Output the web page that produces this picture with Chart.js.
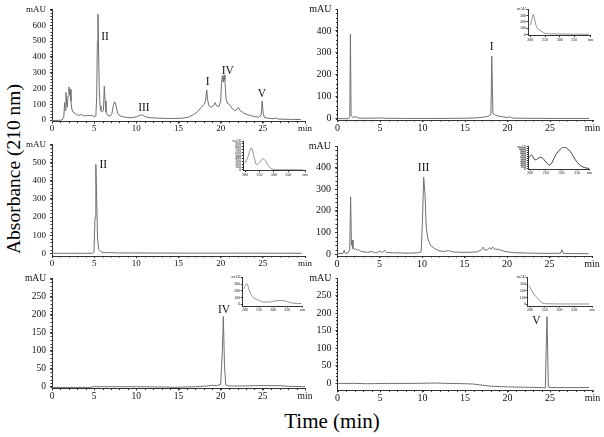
<!DOCTYPE html>
<html><head><meta charset="utf-8">
<script src="https://cdn.jsdelivr.net/npm/chart.js@4/dist/chart.umd.min.js"></script>
<style>
html,body{margin:0;padding:0;background:#fff;}
#wrap{position:relative;width:604px;height:437px;overflow:hidden;background:#fff;}
canvas{position:absolute;}
.ttl{position:absolute;font-family:"Liberation Serif","Times New Roman",serif;color:#000;white-space:nowrap;line-height:1;}
</style></head><body><div id="wrap">
<div class="ttl" style="left:332px;top:421px;font-size:21px;transform:translate(-50%,-50%);">Time (min)</div>
<div class="ttl" style="left:14px;top:169px;font-size:19.5px;transform:translate(-50%,-50%) rotate(-90deg);">Absorbance (210 nm)</div>
</div>
<script>
// ---------- DATA ----------
const timeTicks = [0, 5, 10, 15, 20, 25, 30];
const nmTicks = [200, 250, 300, 350];

// Panel 1: extract chromatogram
const p1Time = [0,0.8,1.2,1.4,1.5,1.55,1.65,1.72,1.8,1.9,2.0,2.1,2.18,2.25,2.35,2.5,2.8,3.0,3.3,3.5,3.8,4.2,4.5,4.8,5.0,5.2,5.3,5.38,5.45,5.52,5.6,5.7,5.8,5.95,6.1,6.2,6.3,6.4,6.6,6.9,7.1,7.3,7.45,7.6,7.8,8.1,8.5,9.0,9.5,10.0,10.4,10.7,11.0,11.5,12.5,13.5,14.5,15.5,16.2,16.8,17.3,17.7,18.0,18.2,18.35,18.45,18.6,18.9,19.2,19.35,19.5,19.8,20.0,20.1,20.2,20.3,20.4,20.5,20.65,20.8,21.0,21.2,21.5,21.8,22.1,22.3,22.7,23.1,23.5,24.0,24.5,24.8,24.92,25.05,25.2,25.6,26.2,26.6,26.8,27.5,28.5,29.5];
const p1Abs  = [-3,-2,0,20,110,60,175,120,80,150,210,160,195,120,70,50,40,32,30,35,25,30,28,30,20,25,150,500,670,450,200,90,60,50,60,215,120,50,30,25,40,100,115,90,40,25,20,15,15,20,30,32,22,15,12,10,10,12,18,35,55,80,98,120,190,130,90,80,95,110,90,85,120,230,280,240,285,250,130,105,100,85,65,60,80,60,45,35,30,22,18,30,120,40,15,12,8,12,6,5,4,3];
const p1Yticks = [0,100,200,300,400,500,600,700];
const p1Peaks = ['II','III','I','IV','V'];
const p1PeakTime = [6.28,10.9,18.45,20.85,24.9];
const p1PeakAbs = [524,76,242,310,164];

// Panel 2: standard I
const p2Time = [0,1.3,1.45,1.52,1.6,1.8,2.0,2.15,2.3,3,5,5.2,5.4,8,12,15,16.5,17.3,17.8,18.05,18.15,18.28,18.6,19.0,19.5,20.0,20.3,20.5,21.5,25,29.6];
const p2Abs  = [0,0,10,385,15,5,8,12,4,2,3,4,2,1,1,2,4,8,12,20,285,25,15,12,8,5,9,3,2,1,1];
const p2Yticks = [0,100,200,300,400,500];
const p2Peaks = ['I'];
const p2PeakTime = [18.15];
const p2PeakAbs = [327];

// Panel 3: standard II
const p3Time = [0,3,4.8,4.98,5.1,5.2,5.3,5.4,5.55,5.8,6.2,8,15,22,29.6];
const p3Abs  = [0,0,0,5,200,490,300,80,20,8,4,2,1,1,0];
const p3Yticks = [0,100,200,300,400,500,600];
const p3Peaks = ['II'];
const p3PeakTime = [6.08];
const p3PeakAbs = [489];

// Panel 4: standard III
const p4Time = [0,0.7,0.85,0.95,1.3,1.5,1.6,1.7,1.8,1.88,2.0,2.2,2.4,2.6,2.8,3.2,3.6,4.1,4.4,4.8,5.1,5.3,5.6,5.8,6.5,7.5,8.5,9.5,9.9,10.05,10.2,10.35,10.5,10.7,11.0,11.5,12.0,12.6,13.1,13.6,14.5,15.5,16.5,17.0,17.2,17.4,17.7,18.0,18.15,18.3,18.6,19.0,19.5,20.0,21,23,25,26.3,26.45,26.6,27.5,29.6];
const p4Abs  = [2,3,18,4,5,20,265,40,65,25,20,25,18,20,12,10,8,12,6,8,15,6,18,8,6,5,4,6,10,150,355,280,120,70,40,25,15,12,16,10,8,8,10,20,32,18,20,30,22,32,22,22,15,10,6,4,3,4,20,4,2,2];
const p4Yticks = [0,100,200,300,400,500];
const p4Peaks = ['III'];
const p4PeakTime = [10.19];
const p4PeakAbs = [400];

// Panel 5: standard IV
const p5Time = [0,4.5,5.0,10,13.5,14.5,15.5,17,18.5,19,19.5,20.0,20.2,20.32,20.45,20.6,21,23,24,27,28,30];
const p5Abs  = [-2,-2,0,0,-1,-2,-1,0,2,4,3,6,100,195,60,5,2,2,3,3,1,0];
const p5Yticks = [0,50,100,150,200,250,300];
const p5Peaks = ['IV'];
const p5PeakTime = [20.4];
const p5PeakAbs = [212];

// Panel 6: standard V
const p6Time = [0,2,3.5,6,9,11.5,13,15,16,17,18,20,22,24,24.45,24.55,24.65,24.8,25,27,29.6];
const p6Abs  = [0,0,-1,0,0,1,0,-1,-2,-5,-8,-10,-11,-12,-13,100,190,-10,-12,-12,-12];
const p6Yticks = [0,50,100,150,200,250,300];
const p6Peaks = ['V'];
const p6PeakTime = [23.4];
const p6PeakAbs = [179];

// UV spectra (insets)
const s1Nm  = [200,205,210,215,222,230,240,250,260,280,320,360,400];
const s1Abs = [150,230,320,230,110,80,45,20,15,12,10,8,8];
const s1Yticks = [0,100,200,300,400];
const s2Nm  = [200,210,222,232,240,250,262,272,282,292,305,330,400];
const s2Abs = [235,450,765,420,180,250,390,300,130,45,15,8,5];
const s2Yticks = [0,100,200,300,400,500,600,700,800,900,1000];
const s3Nm  = [198,205,216,234,262,285,308,328,344,360,376,388];
const s3Abs = [560,690,443,574,197,771,1080,853,443,164,49,15];
const s3Yticks = [0,100,200,300,400,500,600,700,800,900,1000,1100];
const s4Nm  = [196,206,215,226,246,264,285,300,320,334,357,374,400];
const s4Abs = [230,305,210,115,65,35,33,45,55,55,30,15,12];
const s4Yticks = [0,100,200,300,400];
const s5Nm  = [196,211,228,244,260,300,400];
const s5Abs = [280,165,80,15,8,5,5];
const s5Yticks = [0,100,200,300,400];

// ---------- DRAWING ----------
const wrap = document.getElementById('wrap');
const FONT = '"Liberation Serif", "Times New Roman", serif';
const AXIS = '#333';

function buildChart(p) {
  const padLmin = 2, padT = 8, padR = 14, padB = 2;
  const r = p.rect;
  const cl = Math.floor(r.L - p.yw - padLmin);
  const ct = Math.floor(r.T - padT);
  const cw = Math.ceil(r.R + padR) - cl;
  const ch = Math.ceil(r.B + p.xh + padB) - ct;
  const cv = document.createElement('canvas');
  cv.width = cw; cv.height = ch;
  cv.style.left = cl + 'px'; cv.style.top = ct + 'px';
  cv.style.width = cw + 'px'; cv.style.height = ch + 'px';
  wrap.appendChild(cv);
  const padding = {left: r.L - p.yw - cl, top: r.T - ct, right: cl + cw - r.R, bottom: ct + ch - r.B - p.xh};
  const xTickVals = p.xTicks.concat([p.xr[1]]);
  const yTickVals = p.yTicks;
  const yTop = yTickVals[yTickVals.length - 1];
  const overlay = {
    id: 'overlay',
    afterDraw(chart) {
      const ctx = chart.ctx, xs = chart.scales.x, ys = chart.scales.y;
      ctx.save();
      ctx.strokeStyle = AXIS; ctx.lineWidth = 1;
      ctx.beginPath();
      if (p.minorX) {
        for (let k = 0; ; k++) {
          const v = p.xTicks[0] + k * p.minorX;
          if (v > p.xr[1] + 1e-9) break;
          const px = Math.round(xs.getPixelForValue(v)) + 0.5;
          ctx.moveTo(px, xs.top); ctx.lineTo(px, xs.top + p.minorLen);
        }
      }
      if (p.minorY) {
        for (let k = 0; ; k++) {
          const v = yTickVals[0] + k * p.minorY;
          if (v > yTop + 1e-9) break;
          const py = Math.round(ys.getPixelForValue(v)) + 0.5;
          ctx.moveTo(ys.right - p.minorLen, py); ctx.lineTo(ys.right, py);
        }
      }
      ctx.stroke();
      if (p.peaks) {
        ctx.fillStyle = '#111';
        ctx.font = p.peakFs + 'px ' + FONT;
        ctx.textAlign = 'center'; ctx.textBaseline = 'middle';
        p.peaks.forEach((n, i) => {
          ctx.fillText(n, xs.getPixelForValue(p.peakT[i]), ys.getPixelForValue(p.peakV[i]));
        });
      }
      ctx.restore();
    }
  };
  const tickFont = {family: FONT, size: p.fs, lineHeight: 1};
  new Chart(cv, {
    type: 'scatter',
    data: {datasets: [{
      data: p.xs.map((t, i) => ({x: t, y: p.ys[i]})),
      showLine: true, borderColor: p.color, borderWidth: p.lw,
      pointRadius: 0, pointHoverRadius: 0, fill: false,
      tension: p.smooth ? 0.4 : 0,
      cubicInterpolationMode: p.smooth ? 'monotone' : 'default'
    }]},
    options: {
      responsive: false, animation: false, events: [], devicePixelRatio: 1,
      layout: {padding},
      plugins: {legend: {display: false}, tooltip: {enabled: false}, title: {display: false}},
      scales: {
        x: {
          type: 'linear', min: p.xr[0], max: p.xr[1],
          afterBuildTicks: s => { s.ticks = xTickVals.map(v => ({value: v})); },
          afterFit: s => { s.height = p.xh; },
          ticks: {autoSkip: false, maxRotation: 0, minRotation: 0, padding: p.xpad, color: '#111', font: tickFont,
            callback: v => (v === p.xr[1] ? p.xUnit : String(v))},
          grid: {display: true, drawOnChartArea: false, drawTicks: true, tickLength: p.tl, color: AXIS, lineWidth: 1},
          border: {display: true, color: AXIS, width: 1}
        },
        y: {
          type: 'linear', min: p.yr[0], max: p.yr[1],
          afterBuildTicks: s => { s.ticks = yTickVals.map(v => ({value: v})); },
          afterFit: s => { s.width = p.yw; },
          ticks: {autoSkip: false, padding: p.ypad, color: '#111', font: tickFont,
            callback: v => (v === yTop ? 'mAU' : String(v))},
          grid: {display: true, drawOnChartArea: false, drawTicks: true, tickLength: p.tl, color: AXIS, lineWidth: 1},
          border: {display: true, color: AXIS, width: 1}
        }
      }
    },
    plugins: [overlay]
  });
}

const TRACE = '#707070';
function mainPanel(rect, yr, xs, ys, yTicks, fs, minorY, peaks, pt, pv) {
  buildChart({rect, xr: [0, 30], yr, xs, ys, xTicks: timeTicks.slice(0, 6), yTicks, xUnit: 'min',
    fs, yw: 34, xh: 14, tl: 2, xpad: 1, ypad: 4, minorX: 1, minorY, minorLen: 1.5,
    color: TRACE, lw: 1, peaks, peakT: pt, peakV: pv, peakFs: 11.5});
}
function inset(rect, xr, yr, xs, ys, yTicks, color) {
  buildChart({rect, xr, yr, xs, ys, xTicks: nmTicks, yTicks, xUnit: 'nm',
    fs: 4, yw: 12, xh: 6, tl: 1.5, xpad: 0.5, ypad: 0.5, minorX: 0, minorY: 0, minorLen: 1,
    color, lw: 0.8, smooth: true});
}

mainPanel({L: 52, R: 305, T: 9.2, B: 121.6}, [-10, 700], p1Time, p1Abs, p1Yticks, 9, 20, p1Peaks, p1PeakTime, p1PeakAbs);
mainPanel({L: 337.5, R: 592.5, T: 8.7, B: 120}, [-6, 500], p2Time, p2Abs, p2Yticks, 10, 20, p2Peaks, p2PeakTime, p2PeakAbs);
mainPanel({L: 52, R: 305, T: 144.1, B: 256}, [-15, 600], p3Time, p3Abs, p3Yticks, 9, 20, p3Peaks, p3PeakTime, p3PeakAbs);
mainPanel({L: 337, R: 592, T: 145, B: 256}, [-9, 500], p4Time, p4Abs, p4Yticks, 10, 20, p4Peaks, p4PeakTime, p4PeakAbs);
mainPanel({L: 52, R: 305, T: 278.1, B: 388.5}, [-5, 300], p5Time, p5Abs, p5Yticks, 9.5, 10, p5Peaks, p5PeakTime, p5PeakAbs);
mainPanel({L: 337.5, R: 592.5, T: 277.1, B: 390.4}, [-20, 300], p6Time, p6Abs, p6Yticks, 10, 10, p6Peaks, p6PeakTime, p6PeakAbs);

inset({L: 528, R: 590.5, T: 9.1, B: 35.7}, [192, 405], [-15, 400], s1Nm, s1Abs, s1Yticks, '#777');
inset({L: 243.3, R: 305, T: 141, B: 170.7}, [194, 408], [-25, 1000], s2Nm, s2Abs, s2Yticks, '#777');
inset({L: 528.3, R: 589.3, T: 146.7, B: 169}, [194.6, 388], [-10, 1100], s3Nm, s3Abs, s3Yticks, '#111');
inset({L: 242.3, R: 302.8, T: 277.3, B: 306}, [190.4, 405], [-25, 400], s4Nm, s4Abs, s4Yticks, '#777');
inset({L: 527.7, R: 592, T: 277.3, B: 306}, [192.2, 410], [-25, 400], s5Nm, s5Abs, s5Yticks, '#777');
</script></body></html>
